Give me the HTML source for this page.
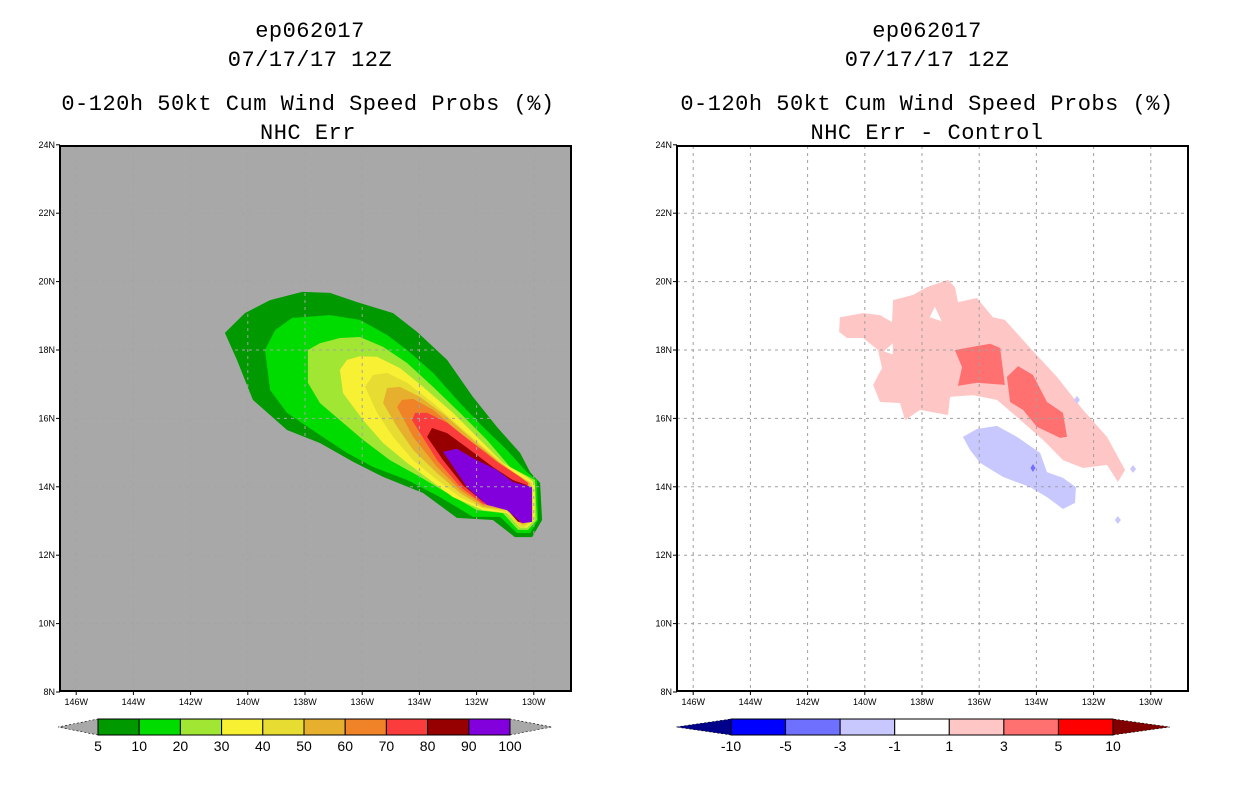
<!DOCTYPE html>
<html><head><meta charset="utf-8"><style>
body{margin:0;background:#fff;width:1236px;height:800px;overflow:hidden}
svg{display:block}
text{font-family:"Liberation Sans",sans-serif}
.tt{font-family:"Liberation Mono",monospace;font-size:22px;letter-spacing:0.5px}
</style></head><body>
<svg id="s" width="1236" height="800">
<text class="tt" x="310" y="37" text-anchor="middle">ep062017</text>
<text class="tt" x="310" y="66" text-anchor="middle">07/17/17 12Z</text>
<text class="tt" x="308" y="110" text-anchor="middle">0-120h 50kt Cum Wind Speed Probs (%)</text>
<text class="tt" x="308" y="139" text-anchor="middle">NHC Err</text>
<text class="tt" x="927" y="37" text-anchor="middle">ep062017</text>
<text class="tt" x="927" y="66" text-anchor="middle">07/17/17 12Z</text>
<text class="tt" x="927" y="110" text-anchor="middle">0-120h 50kt Cum Wind Speed Probs (%)</text>
<text class="tt" x="927" y="139" text-anchor="middle">NHC Err - Control</text>
</svg>
<script>
const NS="http://www.w3.org/2000/svg";
const svg=document.getElementById('s');
const latTicks=[8,10,12,14,16,18,20,22,24];
const lonTicks=[146,144,142,140,138,136,134,132,130];
const probLevels=[5,10,20,30,40,50,60,70,80,90,100];
const probColors=["#009900","#00dc00","#a0e632","#f8f032","#e6dc32","#e6af2d","#f08228","#fa3c3c","#960000","#8200dc"];
const diffLevels=[-10,-5,-3,-1,1,3,5,10];
const diffColors=["#0000ff","#7070ff","#c8c8ff","#ffffff","#ffc6c6","#ff7070","#ff0000"];
const p5=[[140.8,18.5],[140.1,19.08],[139.22,19.46],[138.1,19.7],[137.13,19.67],[136.18,19.4],[134.92,19.08],[134.08,18.53],[133.03,17.71],[132.13,16.63],[131.29,15.75],[130.48,14.99],[130.13,14.43],[129.78,14.11],[129.71,13.03],[130.06,12.53],[130.66,12.53],[131.43,13.03],[132.69,13.09],[133.87,13.82],[135.27,14.29],[136.32,14.73],[137.48,15.28],[138.63,15.66],[139.82,16.54],[140.38,17.71]];
const p10=[[139.4,18],[139.05,18.58],[138.45,18.94],[137.13,19.02],[136.08,18.88],[135.13,18.44],[134.43,18],[133.52,17.33],[132.58,16.45],[131.78,15.75],[130.94,15.08],[130.24,14.43],[129.89,14.2],[129.85,13.03],[130.13,12.65],[130.59,12.65],[131.18,13.12],[132.13,13.12],[133.28,13.7],[134.43,14.2],[135.62,14.58],[136.53,14.99],[137.58,15.57],[138.63,16.16],[139.22,16.83]];
const p20=[[137.9,18],[137.48,18.2],[136.78,18.35],[136.08,18.38],[135.27,18.09],[134.43,17.62],[133.52,16.92],[132.58,16.16],[131.64,15.37],[130.83,14.58],[129.96,14.2],[129.89,13.03],[130.2,12.74],[130.55,12.74],[131.08,13.23],[131.99,13.32],[133.03,13.82],[133.98,14.29],[135.03,14.78],[135.97,15.37],[136.78,15.95],[137.48,16.45],[137.9,17.04]];
const p30=[[136.78,17.42],[136.53,17.71],[136.08,17.82],[135.48,17.8],[134.68,17.47],[133.87,16.92],[132.83,16.16],[131.88,15.37],[131.08,14.7],[130.24,14.29],[129.96,14.11],[129.96,13.03],[130.24,12.8],[130.48,12.8],[130.94,13.23],[131.78,13.32],[132.83,13.7],[133.63,14.2],[134.43,14.7],[135.27,15.28],[135.97,15.95],[136.67,16.74]];
const p40=[[135.9,16.92],[135.62,17.27],[135.13,17.33],[134.43,17.04],[133.52,16.45],[132.58,15.75],[131.64,15.08],[130.83,14.49],[130.06,14.11],[130.03,13.03],[130.31,12.82],[130.48,12.82],[130.94,13.26],[131.78,13.38],[132.58,13.7],[133.38,14.2],[134.22,14.78],[134.92,15.46],[135.48,16.16]];
const p50=[[135.27,16.45],[135.13,16.89],[134.68,16.92],[133.98,16.63],[133.03,16.04],[132.13,15.37],[131.29,14.78],[130.48,14.29],[130.13,14.11],[130.06,13.03],[130.38,12.88],[130.94,13.32],[131.78,13.41],[132.58,13.82],[133.38,14.4],[134.22,15.08],[134.78,15.75]];
const p60=[[134.78,16.33],[134.61,16.54],[134.22,16.57],[133.52,16.25],[132.58,15.57],[131.64,14.99],[130.83,14.43],[130.2,14.11],[130.13,13.03],[130.41,12.94],[130.94,13.38],[131.78,13.47],[132.58,13.91],[133.38,14.58],[134.22,15.46]];
const p70=[[134.26,15.95],[134.15,16.16],[133.73,16.16],[133.03,15.87],[132.13,15.28],[131.29,14.73],[130.48,14.29],[130.2,14.11],[130.2,13.03],[130.48,12.94],[130.94,13.41],[131.78,13.5],[132.58,14],[133.38,14.78]];
const p80=[[133.73,15.46],[133.56,15.72],[133.03,15.57],[132.23,15.08],[131.43,14.58],[130.73,14.2],[130.24,14.05],[130.24,13.03],[130.55,12.97],[131.01,13.41],[131.78,13.56],[132.48,14.05],[133.17,14.78]];
const p90=[[133.17,15.02],[132.69,15.11],[132.13,14.84],[131.29,14.49],[130.73,14.14],[130.06,13.99],[130.06,12.97],[130.41,12.94],[130.94,13.32],[131.64,13.47],[132.34,13.99]];
const probPolys=[p5,p10,p20,p30,p40,p50,p60,p70,p80,p90];
const dPos1=[[140.87,18.96],[140.06,19.08],[139.47,19.02],[139.05,18.82],[139.01,19.46],[138.31,19.61],[137.83,19.84],[137.09,20.05],[136.85,19.84],[136.74,19.4],[136.08,19.52],[135.52,18.96],[135.1,18.88],[134.22,18.06],[133.28,17.21],[132.37,16.25],[131.53,15.46],[130.9,14.49],[131.15,14.14],[131.53,14.64],[132.37,14.55],[133.07,14.78],[133.77,15.37],[134.68,16.04],[135.38,16.54],[136.22,16.68],[137.02,16.63],[137.09,16.1],[138.07,16.25],[138.59,15.95],[138.77,16.45],[139.47,16.48],[139.71,16.98],[139.4,17.47],[139.54,18],[140.06,18.35],[140.62,18.35],[140.9,18.53]];
const dHoleA=[[137.73,18.96],[137.31,18.84],[137.55,19.26]];
const dHoleB=[[139.33,17.96],[139.02,18.2],[139.02,17.87]];
const dPos3a=[[136.85,18],[135.62,18.18],[135.27,18.06],[135.1,16.98],[136.08,17.04],[136.74,16.95],[136.6,17.5]];
const dPos3b=[[135.03,17.21],[134.64,17.53],[134.12,17.27],[133.63,16.48],[133.07,16.16],[132.93,15.46],[133.17,15.43],[133.98,15.75],[134.47,16.25],[134.92,16.48]];
const dNeg1=[[136.57,15.46],[136.08,15.69],[135.38,15.78],[134.68,15.46],[133.87,14.99],[133.63,14.43],[133.07,14.26],[132.62,13.99],[132.65,13.53],[133.07,13.35],[133.63,13.7],[134.22,13.99],[135.17,14.29],[135.97,14.7],[136.32,15.08]];
const dNegDots=[[132.58,16.54],[130.62,14.52],[131.15,13.03]];
const dNeg3Dot=[134.12,14.55];

function mk(tag,attrs,parent){const e=document.createElementNS(NS,tag);for(const k in attrs)e.setAttribute(k,attrs[k]);(parent||svg).appendChild(e);return e;}
function axes(x138){return {x:lon=>x138+(138-lon)*28.6,y:lat=>350-(lat-18)*34.2};}
function pts(poly,ax){return poly.map(p=>ax.x(p[0]).toFixed(1)+','+ax.y(p[1]).toFixed(1)).join(' ');}

function panel(x0,x138,bg,name){
  const ax=axes(x138);
  const g=mk('g',{});
  
  
  const bgR=mk('rect',{x:x0,y:146,width:511,height:545,fill:bg},g);
  
  
  return {ax,g,x0};
}
function finish(P,gridColor,name){
  const {ax,g,x0}=P;
  lonTicks.forEach(l=>{const x=ax.x(l);
    const ln=mk('line',{x1:x,x2:x,y1:146,y2:691,stroke:gridColor,'stroke-width':1,'stroke-dasharray':'3,4'},g);
    
    
    mk('line',{x1:x,x2:x,y1:691,y2:695,stroke:'#000'},g);
    const t=mk('text',{x:x,y:705,'font-size':9,'text-anchor':'middle'},g);t.textContent=l+'W';
    
    
  });
  latTicks.forEach(l=>{const y=ax.y(l);
    if(l>8&&l<24){const ln=mk('line',{x1:x0,x2:x0+511,y1:y,y2:y,stroke:gridColor,'stroke-width':1,'stroke-dasharray':'3,4'},g);
      
      }
    mk('line',{x1:x0-4,x2:x0,y1:y,y2:y,stroke:'#000'},g);
    const t=mk('text',{x:x0-5,y:y+3,'font-size':9,'text-anchor':'end'},g);t.textContent=l+'N';
    
    
  });
  const fr=mk('rect',{x:x0,y:146,width:511,height:545,fill:'none',stroke:'#000','stroke-width':2},g);
  
  
}

const L=panel(60,305,'#a8a8a8','left-map');
probPolys.forEach((poly,i)=>{
  const p=mk('polygon',{points:pts(poly,L.ax),fill:probColors[i]},L.g);
  
  
});
finish(L,'#a4a4a4','left-map');

const R=panel(677,922,'#ffffff','right-map');
[[dPos1,'#ffc6c6','diff-contour-plus1'],[dHoleA,'#ffffff','diff-hole'],[dHoleB,'#ffffff','diff-hole'],[dPos3a,'#ff7070','diff-contour-plus3'],[dPos3b,'#ff7070','diff-contour-plus3'],[dNeg1,'#c8c8ff','diff-contour-minus1']].forEach(d=>{
  const p=mk('polygon',{points:pts(d[0],R.ax),fill:d[1]},R.g);
  
  
});
dNegDots.forEach(d=>{const x=R.ax.x(d[0]),y=R.ax.y(d[1]);
  const p=mk('polygon',{points:`${x},${y-4} ${x+3},${y} ${x},${y+4} ${x-3},${y}`,fill:'#c8c8ff'},R.g);
  
  });
{const x=R.ax.x(dNeg3Dot[0]),y=R.ax.y(dNeg3Dot[1]);
  const p=mk('polygon',{points:`${x},${y-4} ${x+2.5},${y} ${x},${y+4} ${x-2.5},${y}`,fill:'#7070ff'},R.g);
  
  }
finish(R,'#a0a0a0','right-map');

function colorbar(x1,x2,levels,colors,leftTri,rightTri,triL,triR,name){
  const g=mk('g',{});
  
  
  const n=colors.length,w=(x2-x1)/n,y1=719,y2=735,ym=727;
  mk('polygon',{points:`${x1},${y1} ${x1},${y2} ${triL},${ym}`,fill:leftTri,stroke:'#000','stroke-width':0.6,'stroke-dasharray':'2,2'},g);
  mk('polygon',{points:`${x2},${y1} ${x2},${y2} ${triR},${ym}`,fill:rightTri,stroke:'#000','stroke-width':0.6,'stroke-dasharray':'2,2'},g);
  colors.forEach((c,i)=>{const r=mk('rect',{x:x1+i*w,y:y1,width:w,height:y2-y1,fill:c,stroke:'#000','stroke-width':1},g);
    
    });
  levels.forEach((l,i)=>{const t=mk('text',{x:x1+i*w,y:751,'font-size':14,'text-anchor':'middle'},g);t.textContent=l;
    
    });
}
colorbar(98,510,probLevels,probColors,'#a8a8a8','#a8a8a8',58,552,'prob-colorbar');
colorbar(731,1113,diffLevels,diffColors,'#00008b','#800000',676,1170,'diff-colorbar');
</script>
</body></html>
